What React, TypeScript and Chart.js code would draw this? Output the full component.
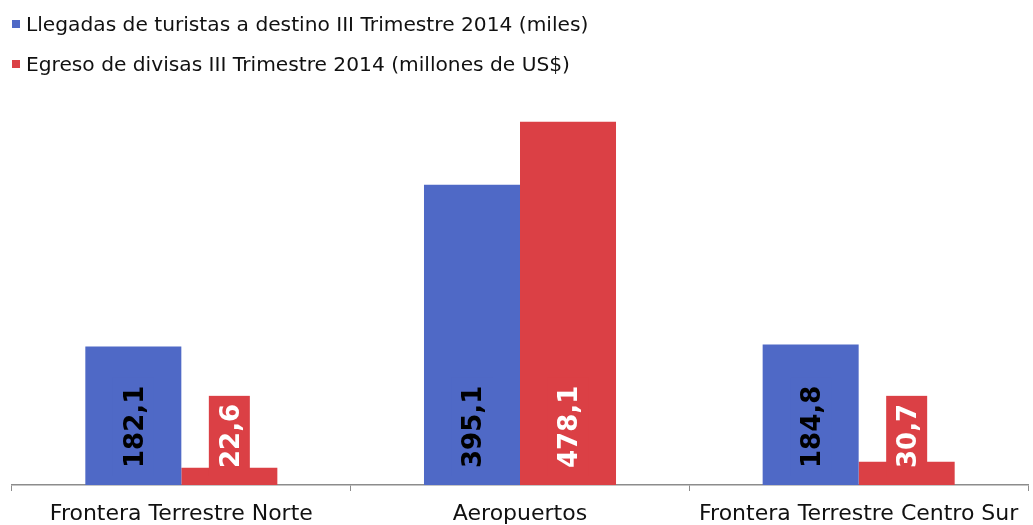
import { useEffect, useRef } from 'react';
import { Chart, registerables } from 'chart.js';

Chart.register(...registerables);

const categories = ['Frontera Terrestre Norte', 'Aeropuertos', 'Frontera Terrestre Centro Sur'];
const seriesNames = [
  'Llegadas de turistas a destino III Trimestre 2014 (miles)',
  'Egreso de divisas III Trimestre 2014 (millones de US$)',
];
const arrivals = [182.1, 395.1, 184.8];
const spending = [22.6, 478.1, 30.7];
const yMin = 0;
const yMax = 500;

const BLUE = '#4F69C6';
const RED = '#DB4045';
const labelColors = ['#000000', '#ffffff'];
const FONT = '"DejaVu Sans", Verdana, sans-serif';

const fmt = (v: number) => v.toFixed(1).replace('.', ',');

const legendPlugin = {
  id: 'topLegend',
  afterDraw(chart: any) {
    const ctx = chart.ctx;
    ctx.save();
    ctx.font = `20.2px ${FONT}`;
    ctx.textBaseline = 'alphabetic';
    const baselines = [31, 71];
    chart.data.datasets.forEach((ds: any, i: number) => {
      const y = baselines[i];
      ctx.fillStyle = ds.backgroundColor;
      ctx.fillRect(12, y - 11, 8, 8);
      ctx.fillStyle = '#111111';
      ctx.fillText(ds.label, 26, y);
    });
    ctx.restore();
  },
};

const valueLabelPlugin = {
  id: 'valueLabels',
  afterDatasetsDraw(chart: any) {
    const ctx = chart.ctx;
    const size = 26;
    chart.data.datasets.forEach((ds: any, di: number) => {
      const meta = chart.getDatasetMeta(di);
      meta.data.forEach((bar: any, i: number) => {
        const { x, base } = bar.getProps(['x', 'base'], true);
        const text = fmt(ds.data[i]);
        ctx.save();
        ctx.font = `bold ${size}px ${FONT}`;
        const w = ctx.measureText(text).width;
        const start = base - 17;
        ctx.fillStyle = ds.backgroundColor;
        ctx.fillRect(x - 20.5, start - w - 8, 41, w + 16);
        ctx.translate(x, start);
        ctx.rotate(-Math.PI / 2);
        ctx.fillStyle = labelColors[di];
        ctx.textBaseline = 'alphabetic';
        ctx.textAlign = 'left';
        ctx.fillText(text, 0, size * 0.73 / 2);
        ctx.restore();
      });
    });
  },
};

export default function App() {
  const ref = useRef<HTMLCanvasElement | null>(null);

  useEffect(() => {
    if (!ref.current) return;
    const chart = new Chart(ref.current, {
      type: 'bar',
      data: {
        labels: categories,
        datasets: [
          { label: seriesNames[0], data: arrivals, backgroundColor: BLUE, borderWidth: 0 },
          { label: seriesNames[1], data: spending, backgroundColor: RED, borderWidth: 0 },
        ],
      },
      options: {
        animation: false,
        responsive: true,
        maintainAspectRatio: false,
        layout: { padding: { left: 12, right: 5, top: 105, bottom: 0 } },
        datasets: { bar: { categoryPercentage: 0.567, barPercentage: 1 } },
        plugins: {
          legend: { display: false },
          tooltip: { enabled: false },
          title: { display: false },
        },
        scales: {
          x: {
            afterFit: (scale: any) => {
              scale.height = 40;
            },
            grid: {
              display: true,
              drawOnChartArea: false,
              drawTicks: true,
              tickLength: 6,
              color: '#8c8c8c',
              offset: true,
            },
            border: { display: true, color: '#8c8c8c', width: 1.5 },
            ticks: {
              color: '#111111',
              font: { family: FONT, size: 22 },
              padding: 10,
              maxRotation: 0,
              minRotation: 0,
              autoSkip: false,
            },
          },
          y: {
            display: false,
            min: yMin,
            max: yMax,
          },
        },
      },
      plugins: [legendPlugin, valueLabelPlugin],
    });
    return () => chart.destroy();
  }, []);

  return (
    <div style={{ position: 'fixed', left: 0, top: 0, width: 1033, height: 525, overflow: 'hidden', background: '#fff' }}>
      <canvas ref={ref} />
    </div>
  );
}
